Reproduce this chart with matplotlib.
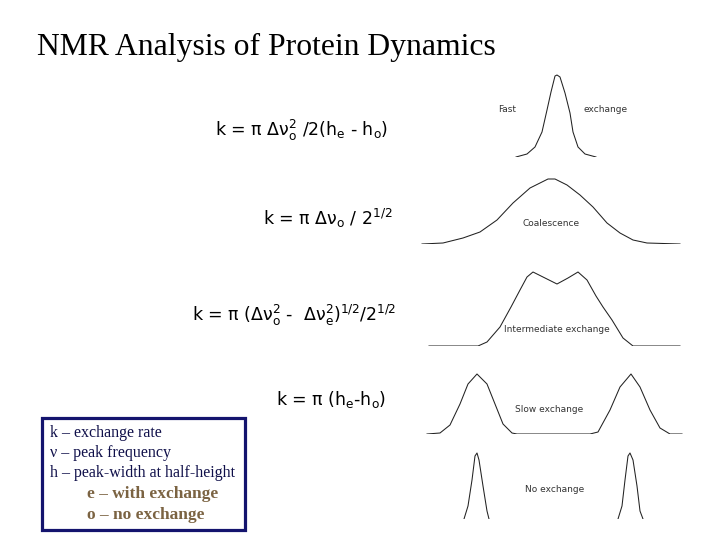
import matplotlib.pyplot as plt
from matplotlib.patches import Rectangle

#### data ####
# x = frequency (arbitrary units), h = intensity above baseline (arbitrary units)
fast_x = [96, 107, 115, 122, 127, 131, 135, 137, 140, 145, 150, 153, 158, 165, 176]
fast_h = [0, 3, 10, 25, 47, 65, 81, 82, 80, 64, 44, 25, 10, 3, 0]

coal_x = [2, 23, 43, 60, 77, 93, 110, 120, 128, 135, 147, 160, 173, 187, 200, 213, 227, 260]
coal_h = [0, 1, 6, 12, 24, 41, 56, 61, 65, 65, 59, 49, 37, 21, 11, 4, 1, 0]

inter_x = [9, 58, 67, 80, 91, 100, 107, 113, 125, 137, 148, 158, 167, 176, 183, 192, 203, 213, 260]
inter_h = [0, 0, 4, 19, 39, 56, 69, 74, 68, 62, 68, 74, 66, 50, 39, 26, 8, 0, 0]

slow_x = [7, 20, 30, 40, 48, 57, 67, 75, 83, 92, 97, 170, 178, 190, 200, 211, 220, 230, 240, 250, 262]
slow_h = [0, 1, 9, 30, 50, 60, 50, 30, 10, 1, 0, 0, 2, 24, 47, 60, 47, 24, 6, 0, 0]

noex_x1 = [44, 48, 52, 55, 57, 59, 63, 67, 69]
noex_x2 = [198, 202, 205, 208, 210, 213, 217, 220, 223]
noex_h = [0, 13, 39, 63, 66, 59, 33, 8, 0]

legend_lines = ['k \u2013 exchange rate', '\u03bd \u2013 peak frequency',
                'h \u2013 peak-width at half-height']
legend_sub = ['e \u2013 with exchange', 'o \u2013 no exchange']

W, H = 720, 540
fig = plt.figure(figsize=(7.2, 5.4), dpi=100)

def fx(px):
    return px / W

def fy(py):
    return 1 - py / H

# title
fig.text(fx(37), fy(47), 'NMR Analysis of Protein Dynamics', family='Liberation Serif',
         fontsize=22.8, va='center', ha='left')

# spectra, one small axes per panel (baseline pixel row)
def panel(base_y, curves):
    ax = fig.add_axes([fx(420), fy(base_y), fx(265), 90 / H])
    for x, h in curves:
        ax.plot(x, h, color='#222222', linewidth=0.75)
    ax.set_xlim(0, 265)
    ax.set_ylim(0, 90)
    ax.axis('off')
    return ax

panel(157, [(fast_x, fast_h)])
panel(244, [(coal_x, coal_h)])
panel(346, [(inter_x, inter_h)])
panel(434, [(slow_x, slow_h)])
panel(519, [(noex_x1, noex_h), (noex_x2, noex_h)])

lab = dict(fontsize=6.5, color='#333333', va='center', family='DejaVu Sans')
fig.text(fx(498), fy(110), 'Fast', ha='left', **lab)
fig.text(fx(584), fy(110), 'exchange', ha='left', **lab)
fig.text(fx(551), fy(223), 'Coalescence', ha='center', **lab)
fig.text(fx(557), fy(330), 'Intermediate exchange', ha='center', **lab)
fig.text(fx(549), fy(410), 'Slow exchange', ha='center', **lab)
fig.text(fx(555), fy(490), 'No exchange', ha='center', **lab)

# equations
eq = dict(fontsize=12.5, va='center', ha='left', family='DejaVu Sans')
fig.text(fx(215), fy(130), r'k = $\mathrm{\pi}\ \mathrm{\Delta\nu}_\mathrm{o}^2$ /2(h$_\mathrm{e}$ - h$_\mathrm{o}$)', **eq)
fig.text(fx(263), fy(218), r'k = $\mathrm{\pi}\ \mathrm{\Delta\nu}_\mathrm{o}$ / 2$^{1/2}$', **eq)
fig.text(fx(192), fy(315), r'k = $\mathrm{\pi}$ ($\mathrm{\Delta\nu}_\mathrm{o}^2$ -  $\mathrm{\Delta\nu}_\mathrm{e}^2$)$^{1/2}$/2$^{1/2}$', **eq)
fig.text(fx(276), fy(399), r'k = $\mathrm{\pi}$ (h$_\mathrm{e}$-h$_\mathrm{o}$)', **eq)

# legend box
fig.patches.append(Rectangle((fx(42), fy(530)), fx(203), 112 / H, transform=fig.transFigure,
                             fill=False, edgecolor='#14146e', linewidth=2.3))
for i, s in enumerate(legend_lines):
    fig.text(fx(50), fy(433 + 20 * i), s, family='Liberation Serif', fontsize=11.5,
             va='center', ha='left', color='#10104a')
for i, s in enumerate(legend_sub):
    fig.text(fx(87), fy(494 + 21 * i), s, family='Liberation Serif', fontsize=12.5,
             weight='bold', va='center', ha='left', color='#7b6342')

plt.savefig('out.png', dpi=100)
